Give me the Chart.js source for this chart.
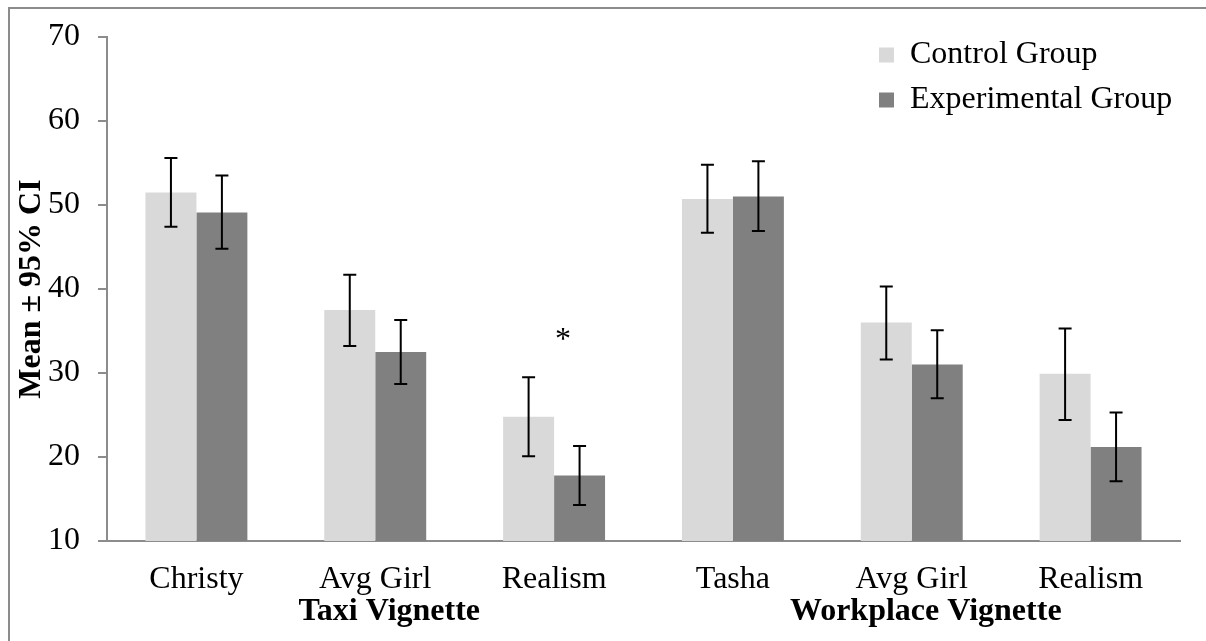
<!DOCTYPE html>
<html>
<head>
<meta charset="utf-8">
<script src="https://cdn.jsdelivr.net/npm/chart.js@4.4.1/dist/chart.umd.min.js"></script>
<style>
  body { margin: 0; background: #fff; }
  #wrap { position: relative; width: 1206px; height: 641px; }
  #frame { position: absolute; left: 8px; top: 7px; right: 0; bottom: 0;
           border-top: 2px solid #8c8c8c; border-left: 2px solid #8c8c8c; pointer-events: none; }
</style>
</head>
<body>
<div id="wrap">
  <canvas id="chart" width="1206" height="641"></canvas>
  <div id="frame"></div>
</div>
<script>
// categories and group labels
let categories = ['Christy', 'Avg Girl', 'Realism', 'Tasha', 'Avg Girl', 'Realism'];
let groupLabels = ['', 'Taxi Vignette', '', '', 'Workplace Vignette', ''];

// means and 95% CI bounds
let controlMean = [51.5, 37.5, 24.8, 50.7, 36.0, 29.9];
let controlHigh = [55.6, 41.7, 29.5, 54.8, 40.3, 35.3];
let controlLow  = [47.4, 33.2, 20.1, 46.7, 31.6, 24.4];

let expMean = [49.1, 32.5, 17.8, 51.0, 31.0, 21.2];
let expHigh = [53.5, 36.3, 21.3, 55.2, 35.1, 25.3];
let expLow  = [44.8, 28.7, 14.3, 46.9, 27.0, 17.1];

// significance marker
let sigLabels = ['', '', '*', '', '', ''];
let sigLevel = 32.9;

const FONT = 'Liberation Serif, Times New Roman, serif';

const errorBars = {
    id: 'errorBars',
    afterDatasetsDraw(chart) {
        const ctx = chart.ctx;
        const y = chart.scales.y;
        chart.data.datasets.forEach((ds, di) => {
            const meta = chart.getDatasetMeta(di);
            meta.data.forEach((bar, i) => {
                const top = y.getPixelForValue(ds.errHigh[i]);
                const bot = y.getPixelForValue(ds.errLow[i]);
                ctx.save();
                ctx.strokeStyle = '#000';
                ctx.lineWidth = 2;
                ctx.beginPath();
                ctx.moveTo(bar.x, top); ctx.lineTo(bar.x, bot);
                ctx.moveTo(bar.x - 6.5, top); ctx.lineTo(bar.x + 6.5, top);
                ctx.moveTo(bar.x - 6.5, bot); ctx.lineTo(bar.x + 6.5, bot);
                ctx.stroke();
                ctx.restore();
            });
        });
        // asterisk over the taxi realism pair
        const x = chart.scales.x;
        ctx.save();
        ctx.fillStyle = '#000';
        ctx.font = '32px ' + FONT;
        ctx.textAlign = 'center';
        ctx.textBaseline = 'alphabetic';
        sigLabels.forEach((s, i) => {
            if (!s) return;
            ctx.fillText(s, x.getPixelForValue(i) + 9, y.getPixelForValue(sigLevel));
        });
        ctx.restore();
    }
};

// move the legend to the upper right inside the plot area
const legendPlace = {
    id: 'legendPlace',
    beforeDraw(chart) {
        const lg = chart.legend;
        lg.left = 866;
        lg.right = 1206;
        lg.top = 26;
        lg.bottom = 200;
    }
};

new Chart(document.getElementById('chart'), {
    type: 'bar',
    data: {
        labels: categories,
        datasets: [
            {
                label: 'Control Group',
                data: controlMean,
                errHigh: controlHigh,
                errLow: controlLow,
                backgroundColor: '#d9d9d9',
                borderWidth: 0
            },
            {
                label: 'Experimental Group',
                data: expMean,
                errHigh: expHigh,
                errLow: expLow,
                backgroundColor: '#808080',
                borderWidth: 0
            }
        ]
    },
    options: {
        responsive: false,
        animation: false,
        layout: { padding: { left: 16, right: 26, top: 37, bottom: 13 } },
        datasets: { bar: { barPercentage: 1, categoryPercentage: 0.57 } },
        plugins: {
            legend: {
                position: 'chartArea',
                align: 'start',
                labels: {
                    boxWidth: 15,
                    boxHeight: 15,
                    padding: 13,
                    color: '#000',
                    font: { family: FONT, size: 32 }
                }
            },
            tooltip: { enabled: false }
        },
        scales: {
            x: {
                grid: { display: false, drawTicks: false },
                border: { display: true, color: '#8c8c8c', width: 2 },
                ticks: { color: '#000', padding: 23, font: { family: FONT, size: 32, lineHeight: 1 } },
                afterFit: (s) => { s.height = 55; }
            },
            x2: {
                type: 'category',
                labels: groupLabels,
                position: 'bottom',
                offset: true,
                grid: { display: false, drawTicks: false },
                border: { display: false },
                ticks: { color: '#000', padding: 0, labelOffset: 14, autoSkip: false, maxRotation: 0,
                         font: { family: FONT, size: 32, weight: 'bold', lineHeight: 1 } },
                afterFit: (s) => { s.height = 32; }
            },
            y: {
                min: 10,
                max: 70,
                ticks: { stepSize: 10, color: '#000', padding: 18, font: { family: FONT, size: 32, lineHeight: 1 } },
                grid: { drawOnChartArea: false, drawTicks: true, tickLength: 9, color: '#8c8c8c', lineWidth: 2 },
                border: { display: true, color: '#8c8c8c', width: 2 },
                title: {
                    display: true,
                    text: 'Mean ± 95% CI',
                    color: '#000',
                    padding: 0,
                    font: { family: FONT, size: 32, weight: 'bold', lineHeight: 1 }
                },
                afterFit: (s) => { s.width = 91; }
            }
        }
    },
    plugins: [errorBars, legendPlace]
});
</script>
</body>
</html>
